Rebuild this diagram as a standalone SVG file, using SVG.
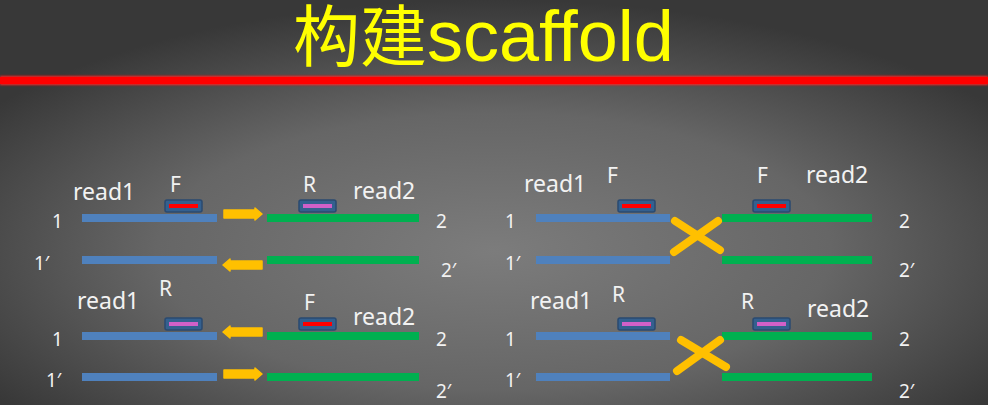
<svg xmlns="http://www.w3.org/2000/svg" width="988" height="405" viewBox="0 0 988 405">
<defs>
<radialGradient id="bg" cx="50%" cy="62%" r="62%" fx="50%" fy="62%">
<stop offset="0" stop-color="#7c7c7c"/>
<stop offset="0.55" stop-color="#666666"/>
<stop offset="1" stop-color="#383838"/>
</radialGradient>
<filter id="glow" x="-5%" y="-100%" width="110%" height="300%">
<feGaussianBlur stdDeviation="1"/>
</filter>
</defs>
<style>
.lbl{font-family:"Noto Sans","Liberation Sans",sans-serif;fill:#f2f2f2}
.rd{font-size:23px}
.fr{font-size:21px}
.num{font-size:19px}
.blue{fill:#4f81bd}
.green{fill:#00b050}
.box{fill:#34608f;stroke:#2a4a70;stroke-width:1.5}
.red{fill:#ff0000}
.mag{fill:#d060c8}
.arrow{fill:#ffc000;stroke:#ffc000;stroke-width:1.5;stroke-linejoin:round}
.cross{stroke:#ffc000;stroke-width:8;stroke-linecap:round;fill:none}
</style>
<rect width="988" height="405" fill="url(#bg)"/>
<g id="title">
<text x="293" y="61" font-family="'Noto Sans CJK SC','Noto Sans',sans-serif" fill="#ffff00"><tspan font-size="67">构建</tspan><tspan font-family="'Liberation Sans',sans-serif" font-size="72">scaffold</tspan></text>
<rect x="0" y="76" width="988" height="9" fill="#ff2020" filter="url(#glow)"/>
<rect x="0" y="77" width="988" height="7" fill="#ff0000"/>
</g>

<!-- Top-left panel -->
<g id="tl-read1">
<text class="lbl rd" x="73" y="200">read1</text>
<text class="lbl num" x="52" y="228">1</text>
<text class="lbl num" x="34" y="270">1′</text>
<rect class="blue" x="82" y="214" width="135" height="8"/>
<rect class="blue" x="82" y="256" width="135" height="8"/>
</g>
<g id="tl-primer-f">
<text class="lbl fr" x="170" y="192">F</text>
<rect class="box" x="165" y="200" width="37" height="12" rx="2"/>
<rect class="red" x="169" y="204" width="29" height="4"/>
</g>
<g id="tl-read2">
<text class="lbl rd" x="353" y="199">read2</text>
<text class="lbl num" x="436" y="228">2</text>
<text class="lbl num" x="441" y="277">2′</text>
<rect class="green" x="267" y="214" width="152" height="8"/>
<rect class="green" x="267" y="256" width="152" height="8"/>
</g>
<g id="tl-primer-r">
<text class="lbl fr" x="303" y="192">R</text>
<rect class="box" x="299" y="200" width="37" height="12" rx="2"/>
<rect class="mag" x="303" y="204" width="29" height="4"/>
</g>

<!-- Bottom-left panel -->
<g id="bl-read1">
<text class="lbl rd" x="77" y="309">read1</text>
<text class="lbl num" x="52" y="346">1</text>
<text class="lbl num" x="46" y="387">1′</text>
<rect class="blue" x="82" y="332" width="135" height="8"/>
<rect class="blue" x="82" y="373" width="135" height="8"/>
</g>
<g id="bl-primer-r">
<text class="lbl fr" x="159" y="296">R</text>
<rect class="box" x="165" y="318" width="37" height="12" rx="2"/>
<rect class="mag" x="169" y="322" width="29" height="4"/>
</g>
<g id="bl-read2">
<text class="lbl rd" x="353" y="325">read2</text>
<text class="lbl num" x="436" y="346">2</text>
<text class="lbl num" x="436" y="398">2′</text>
<rect class="green" x="267" y="332" width="152" height="8"/>
<rect class="green" x="267" y="373" width="152" height="8"/>
</g>
<g id="bl-primer-f">
<text class="lbl fr" x="304" y="310">F</text>
<rect class="box" x="299" y="318" width="37" height="12" rx="2"/>
<rect class="red" x="303" y="322" width="29" height="4"/>
</g>

<!-- Top-right panel -->
<g id="tr-read1">
<text class="lbl rd" x="524" y="192">read1</text>
<text class="lbl num" x="505" y="228">1</text>
<text class="lbl num" x="505" y="270">1′</text>
<rect class="blue" x="536" y="214" width="134" height="8"/>
<rect class="blue" x="536" y="256" width="134" height="8"/>
</g>
<g id="tr-primer-f1">
<text class="lbl fr" x="607" y="183">F</text>
<rect class="box" x="618" y="200" width="37" height="12" rx="2"/>
<rect class="red" x="622" y="204" width="29" height="4"/>
</g>
<g id="tr-read2">
<text class="lbl rd" x="806" y="183">read2</text>
<text class="lbl num" x="899" y="228">2</text>
<text class="lbl num" x="899" y="277">2′</text>
<rect class="green" x="722" y="214" width="150" height="8"/>
<rect class="green" x="722" y="256" width="150" height="8"/>
</g>
<g id="tr-primer-f2">
<text class="lbl fr" x="757" y="183">F</text>
<rect class="box" x="753" y="200" width="37" height="12" rx="2"/>
<rect class="red" x="757" y="204" width="29" height="4"/>
</g>

<!-- Bottom-right panel -->
<g id="br-read1">
<text class="lbl rd" x="530" y="309">read1</text>
<text class="lbl num" x="505" y="346">1</text>
<text class="lbl num" x="505" y="387">1′</text>
<rect class="blue" x="536" y="332" width="134" height="8"/>
<rect class="blue" x="536" y="373" width="134" height="8"/>
</g>
<g id="br-primer-r1">
<text class="lbl fr" x="612" y="302">R</text>
<rect class="box" x="618" y="318" width="37" height="12" rx="2"/>
<rect class="mag" x="622" y="322" width="29" height="4"/>
</g>
<g id="br-read2">
<text class="lbl rd" x="807" y="317">read2</text>
<text class="lbl num" x="899" y="346">2</text>
<text class="lbl num" x="899" y="398">2′</text>
<rect class="green" x="722" y="332" width="150" height="8"/>
<rect class="green" x="722" y="373" width="150" height="8"/>
</g>
<g id="br-primer-r2">
<text class="lbl fr" x="741" y="309">R</text>
<rect class="box" x="753" y="318" width="37" height="12" rx="2"/>
<rect class="mag" x="757" y="322" width="29" height="4"/>
</g>

<g id="connectors">
<path class="arrow" d="M224,210 L255,210 L255,208 L262,214 L255,220 L255,218 L224,218 Z"/>
<path class="arrow" d="M262,261 L230,261 L230,259 L223,265 L230,271 L230,269 L262,269 Z"/>
<path class="arrow" d="M262,328 L230,328 L230,326 L223,332 L230,338 L230,336 L262,336 Z"/>
<path class="arrow" d="M224,370 L255,370 L255,368 L262,374 L255,380 L255,378 L224,378 Z"/>
<line class="cross" x1="675" y1="221" x2="720" y2="250"/>
<line class="cross" x1="718" y1="221" x2="674" y2="252"/>
<line class="cross" x1="681" y1="340" x2="726" y2="367"/>
<line class="cross" x1="720" y1="340" x2="677" y2="371"/>
</g>
</svg>
